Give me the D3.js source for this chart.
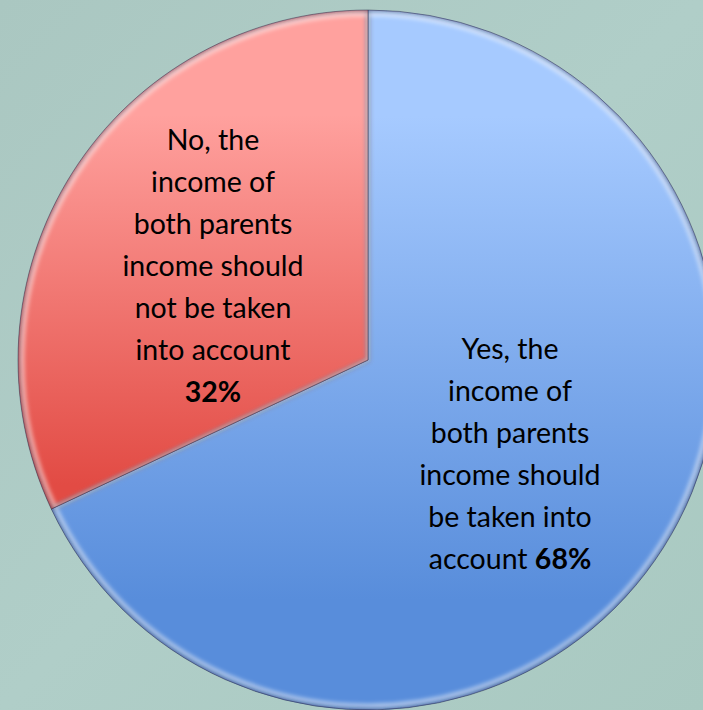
<!DOCTYPE html>
<html>
<head>
<meta charset="utf-8">
<script src="https://cdn.jsdelivr.net/npm/d3@7/dist/d3.min.js"></script>
<style>
  html, body { margin: 0; padding: 0; background: #abc9c2; }
  svg { display: block; }
</style>
</head>
<body>
<script>
// Survey answers on whether both parents' income should count
const categories = ["Yes", "No"];
const shares = [68, 32];
const labelLines = [
  ["Yes, the", "income of", "both parents", "income should", "be taken into", "account"],
  ["No, the", "income of", "both parents", "income should", "not be taken", "into account", ""]
];
const valueLabels = ["68%", "32%"];
const sliceTop = ["#a6caff", "#ffa19e"];
const sliceBottom = ["#588ddb", "#e24b44"];

const W = 703, H = 710;
const cx = 368, cy = 360, R = 350;

const svg = d3.select("body").append("svg").attr("width", W).attr("height", H);
const defs = svg.append("defs");

// backdrop
const bg = defs.append("linearGradient").attr("id", "bg").attr("x1", 0).attr("y1", 0).attr("x2", 1).attr("y2", 1);
bg.append("stop").attr("offset", 0).attr("stop-color", "#aac7c1");
bg.append("stop").attr("offset", 0.5).attr("stop-color", "#b0cec8");
bg.append("stop").attr("offset", 1).attr("stop-color", "#a9c9c1");
svg.append("rect").attr("width", W).attr("height", H).attr("fill", "url(#bg)");

// vertical shading per slice (top light, bottom saturated), in pie-centred coordinates
const gradSpan = [[-R, 240], [-R, 125]];
const holdTop = [0.18, 0.22];
categories.forEach((c, i) => {
  const g = defs.append("linearGradient").attr("id", "grad" + i)
    .attr("gradientUnits", "userSpaceOnUse")
    .attr("x1", 0).attr("y1", gradSpan[i][0]).attr("x2", 0).attr("y2", gradSpan[i][1]);
  g.append("stop").attr("offset", 0).attr("stop-color", sliceTop[i]);
  g.append("stop").attr("offset", holdTop[i]).attr("stop-color", sliceTop[i]);
  g.append("stop").attr("offset", 1).attr("stop-color", sliceBottom[i]);
});

const blur = defs.append("filter").attr("id", "soft").attr("x", "-10%").attr("y", "-10%").attr("width", "120%").attr("height", "120%");
blur.append("feGaussianBlur").attr("stdDeviation", 2);

const pie = d3.pie().sort(null).value(d => d)(shares);
const arc = d3.arc().innerRadius(0).outerRadius(R);
const innerArc = d3.arc().innerRadius(0).outerRadius(R - 4);

const root = svg.append("g").attr("transform", `translate(${cx},${cy})`);

pie.forEach((p, i) => {
  defs.append("clipPath").attr("id", "clip" + i)
    .append("path").attr("d", arc(p));

  root.append("path")
    .attr("d", arc(p))
    .attr("fill", `url(#grad${i})`);

  // bevelled rim: dark outer edge, light inner highlight
  const rim = root.append("g").attr("clip-path", `url(#clip${i})`);
  rim.append("path")
    .attr("d", arc(p))
    .attr("fill", "none")
    .attr("stroke", "rgba(20,30,70,0.55)")
    .attr("stroke-width", 4)
    .attr("filter", "url(#soft)");
  rim.append("path")
    .attr("d", innerArc(p))
    .attr("fill", "none")
    .attr("stroke", "rgba(255,255,255,0.6)")
    .attr("stroke-width", 4)
    .attr("filter", "url(#soft)");

  root.append("path")
    .attr("d", arc(p))
    .attr("fill", "none")
    .attr("stroke", "rgba(40,40,70,0.6)")
    .attr("stroke-width", 0.8);
});

// labels
const labelPos = [[510, 349], [213, 140]];
const lineH = 42;
pie.forEach((p, i) => {
  const t = svg.append("text")
    .attr("text-anchor", "middle")
    .attr("font-family", "Lato, 'Open Sans', sans-serif")
    .attr("font-size", 28.5)
    .attr("fill", "#000");
  const lines = labelLines[i];
  lines.forEach((ln, k) => {
    const ts = t.append("tspan")
      .attr("x", labelPos[i][0])
      .attr("y", labelPos[i][1] + k * lineH + 10);
    const last = k === lines.length - 1;
    if (last && ln === "") {
      ts.append("tspan").attr("font-weight", "bold").text(valueLabels[i]);
    } else if (last) {
      ts.append("tspan").text(ln + " ");
      ts.append("tspan").attr("font-weight", "bold").text(valueLabels[i]);
    } else {
      ts.text(ln);
    }
  });
});
</script>
</body>
</html>
